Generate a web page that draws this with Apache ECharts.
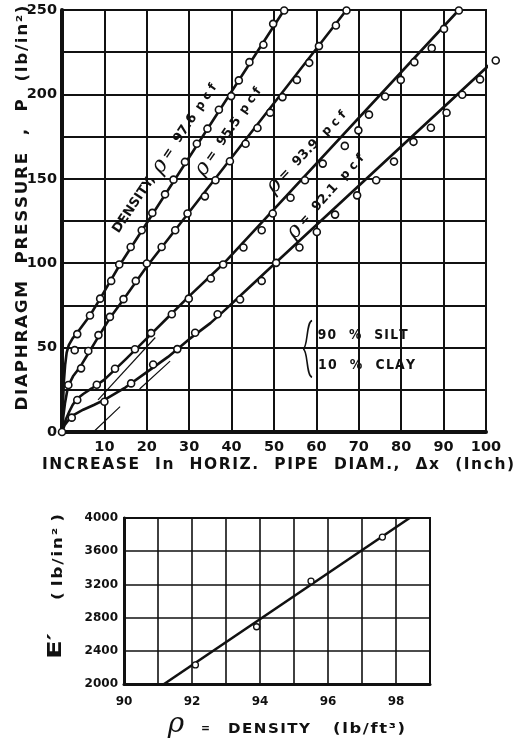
<!DOCTYPE html>
<html>
<head>
<meta charset="utf-8">
<script src="https://cdn.jsdelivr.net/npm/echarts@6/dist/echarts.min.js"></script>
<style>
  html, body { margin: 0; padding: 0; background: #fff; }
  #chart { width: 516px; height: 744px; }
</style>
</head>
<body>
<div id="chart"></div>
<script>
// Load tests on buried pipe: diaphragm pressure P vs. increase in horizontal
// pipe diameter Δx for four soil densities, and soil modulus E' vs. density.

// Measured points [Δx (inch), P (lb/in²)]
const obs976 = [[0, 0], [3.0, 48.5], [3.6, 58], [6.6, 69], [9, 79], [11.6, 89.5], [13.5, 99.2],
  [16.2, 109.6], [18.8, 119.5], [21.3, 129.8], [24.3, 140.8], [26.3, 149.5], [29, 160],
  [31.8, 170.8], [34.3, 179.7], [37, 190.9], [39.9, 199], [41.7, 208.3], [44.2, 219.1],
  [47.5, 229.4], [49.8, 241.8], [52.4, 249.7]];
const obs955 = [[1.5, 27.8], [4.5, 37.7], [6.2, 48], [8.6, 57.4], [11.3, 68.2], [14.5, 78.7],
  [17.4, 89.5], [20, 99.8], [23.5, 109.6], [26.7, 119.5], [29.6, 129.4], [33.7, 139.6],
  [36.2, 149.1], [39.6, 160.4], [43.3, 170.8], [46.1, 180.1], [49.1, 189.2], [52, 198.4],
  [55.4, 208.6], [58.3, 218.7], [60.6, 228.6], [64.6, 240.8], [67.1, 249.7]];
const obs939 = [[3.6, 19], [8.2, 28], [12.5, 37.5], [17.2, 49], [21, 58.6], [25.9, 69.8],
  [29.9, 79], [35.1, 90.9], [38, 99.2], [42.8, 109.3], [47.1, 119.5], [49.7, 129.4],
  [53.9, 138.8], [57.3, 149.1], [61.5, 159], [66.7, 169.5], [69.9, 178.7], [72.4, 188],
  [76.2, 198.8], [79.9, 208.6], [83.1, 219.1], [87.2, 227.4], [90.1, 238.8], [93.6, 249.7]];
const obs921 = [[2.3, 8.5], [10, 17.9], [16.3, 28.8], [21.5, 40], [27.2, 49.1], [31.4, 58.8],
  [36.7, 69.8], [42, 78.5], [47.1, 89.5], [50.5, 100.2], [56, 109.3], [60.1, 118.5],
  [64.4, 128.8], [69.6, 140.2], [74.1, 149.1], [78.3, 160.2], [82.9, 171.9], [87, 180.2],
  [90.7, 189.1], [94.4, 199.8], [98.6, 208.9], [102.3, 220.1]];

// Drawn curves through the measurements
const curve976 = [[0, 0], [0.2, 15], [0.45, 30], [0.75, 40], [1.1, 47], [1.6, 51.5],
  [2.5, 55.5], [3.5, 58.5], [6.6, 69], [9, 79], [13.5, 98.5], [52.4, 250]];
const curve955 = [[0, 0], [0.3, 9], [0.7, 17], [1.2, 24], [1.8, 29], [2.6, 33], [3.5, 36],
  [4.5, 39.5], [6.2, 46.5], [8.6, 56.5], [11.3, 67.5], [14.5, 78.5], [20, 98], [67.1, 250]];
const curve939 = [[0, 0], [0.5, 4.5], [1, 8], [1.7, 12], [2.5, 16], [3.5, 19.5], [5, 22.5],
  [7, 25.8], [10, 31], [15, 43], [20, 55.5], [25, 68], [30, 80.5], [38, 99.5], [93.6, 250]];
const curve921 = [[0, 0], [0.6, 4], [1.5, 7], [3, 10.5], [5, 13.2], [7.5, 16], [10, 19],
  [15, 26.5], [20, 35.5], [25, 44.5], [30, 55], [35, 64.5], [38.4, 72.2], [44, 85.3],
  [50.2, 99.8], [102.3, 221]];

// Straight-line extensions of the linear parts toward P = 0
const ext921 = [[7.4, 0], [13.7, 15], null, [18.3, 25.5], [25.5, 42]];
const ext939 = [[8.5, 19], [22, 56]];

const pressureTickLabels = [0, 50, 100, 150, 200, 250];
const dxTickLabels = [10, 20, 30, 40, 50, 60, 70, 80, 90, 100];

// Soil modulus E' (lb/in²) against density (lb/ft³)
const densities = [92.1, 93.9, 95.5, 97.6];
const ePrime = [2230, 2690, 3240, 3770];
const eFit = [[91.18, 2000], [98.4, 4000]];
const densityTickLabels = [90, 92, 94, 96, 98];

const INK = '#111';
const FONT = '"DejaVu Sans", "Liberation Sans", sans-serif';

const chart = echarts.init(document.getElementById('chart'), null, { renderer: 'canvas' });

function axisBase(extra) {
  return Object.assign({
    type: 'value',
    axisTick: { show: false },
    axisLine: { show: true, onZero: false, lineStyle: { color: INK, width: 4 } },
    splitLine: { show: true, lineStyle: { color: INK, width: 2 } }
  }, extra);
}

function curveSeries(data, width) {
  return {
    type: 'line', xAxisIndex: 0, yAxisIndex: 0, data: data,
    showSymbol: false, smooth: false, clip: false,
    lineStyle: { color: INK, width: width, join: 'round', cap: 'round' }, z: 3
  };
}

function pointSeries(data) {
  return {
    type: 'scatter', xAxisIndex: 0, yAxisIndex: 0, data: data, clip: false,
    symbol: 'circle', symbolSize: 7,
    itemStyle: { color: '#fff', borderColor: INK, borderWidth: 1.6, opacity: 1 }, z: 4
  };
}

const option = {
  animation: false,
  backgroundColor: '#fff',
  grid: [
    { left: 62, right: 30, top: 10, bottom: 312, show: true, borderColor: INK, borderWidth: 2 },
    { left: 124, right: 86, top: 518, bottom: 60, show: true, borderColor: INK, borderWidth: 2 }
  ],
  xAxis: [
    axisBase({
      gridIndex: 0, min: 0, max: 100, interval: 10,
      axisLabel: {
        color: INK, fontFamily: FONT, fontWeight: 'bold', fontSize: 14.5, margin: 8,
        formatter: v => dxTickLabels.indexOf(v) >= 0 ? String(v) : ''
      }
    }),
    axisBase({
      gridIndex: 1, min: 90, max: 99, interval: 1,
      axisLine: { show: true, onZero: false, lineStyle: { color: INK, width: 3 } },
      splitLine: { show: true, lineStyle: { color: INK, width: 1.6 } },
      axisLabel: {
        color: INK, fontFamily: FONT, fontWeight: 'bold', fontSize: 12, margin: 12,
        formatter: v => densityTickLabels.indexOf(v) >= 0 ? String(v) : ''
      }
    })
  ],
  yAxis: [
    axisBase({
      gridIndex: 0, min: 0, max: 250, interval: 25,
      axisLabel: {
        color: INK, fontFamily: FONT, fontWeight: 'bold', fontSize: 14.5, margin: 5,
        formatter: v => pressureTickLabels.indexOf(v) >= 0 ? String(v) : ''
      }
    }),
    axisBase({
      gridIndex: 1, min: 2000, max: 4000, interval: 400,
      axisLine: { show: true, onZero: false, lineStyle: { color: INK, width: 3 } },
      splitLine: { show: true, lineStyle: { color: INK, width: 1.6 } },
      axisLabel: {
        color: INK, fontFamily: FONT, fontWeight: 'bold', fontSize: 12, margin: 6,
        formatter: v => String(v)
      }
    })
  ],
  series: [
    curveSeries(curve976, 2.6),
    curveSeries(curve955, 2.6),
    curveSeries(curve939, 2.6),
    curveSeries(curve921, 2.6),
    {
      type: 'line', xAxisIndex: 0, yAxisIndex: 0, data: ext921, showSymbol: false,
      connectNulls: false, lineStyle: { color: INK, width: 1.2 }, z: 2
    },
    {
      type: 'line', xAxisIndex: 0, yAxisIndex: 0, data: ext939, showSymbol: false,
      lineStyle: { color: INK, width: 1.2 }, z: 2
    },
    pointSeries(obs976),
    pointSeries(obs955),
    pointSeries(obs939),
    pointSeries(obs921),
    {
      type: 'line', xAxisIndex: 1, yAxisIndex: 1, data: eFit, showSymbol: false,
      lineStyle: { color: INK, width: 2.6 }, z: 3
    },
    {
      type: 'scatter', xAxisIndex: 1, yAxisIndex: 1,
      data: densities.map((d, i) => [d, ePrime[i]]),
      symbol: 'circle', symbolSize: 6,
      itemStyle: { color: '#fff', borderColor: INK, borderWidth: 1.3, opacity: 1 }, z: 4
    }
  ]
};

chart.setOption(option);

// ---- text helpers -------------------------------------------------------
const measureCtx = document.createElement('canvas').getContext('2d');
function textWidth(text, font) {
  measureCtx.font = font;
  return measureCtx.measureText(text).width;
}
// open up the lettering slightly with hair spaces
function spaced(s, gap) {
  return s.split(' ').map(w => w.split('').join('\u200A')).join(gap || '   ');
}
// text stretched along its own baseline to occupy a given length
function fitted(text, font, x, y, length, angleDeg, align) {
  const sx = length / textWidth(text, font);
  return {
    type: 'text', x: x, y: y, rotation: (angleDeg || 0) * Math.PI / 180,
    scaleX: sx, scaleY: 1, z: 10,
    style: {
      text: text, font: font, fill: INK,
      align: align || 'center', textAlign: align || 'center',
      verticalAlign: 'middle', textVerticalAlign: 'middle'
    }
  };
}

// Annotations placed in data coordinates of the pressure chart
const px = (x, y) => chart.convertToPixel({ gridIndex: 0 }, [x, y]);
const deg = a => a * Math.PI / 180;

const richCurve = {
  t: { fontFamily: FONT, fontWeight: 'bold', fontSize: 13, fill: INK },
  r: { fontFamily: '"DejaVu Serif", serif', fontStyle: 'italic', fontSize: 22, fill: INK },
  s: { fontFamily: FONT, fontWeight: 'bold', fontSize: 12, fill: INK }
};

function curveLabel(text, x, y, angle) {
  const p = px(x, y);
  return {
    type: 'text', x: p[0], y: p[1], rotation: deg(angle), z: 10,
    style: {
      text: text, rich: richCurve, fill: INK,
      align: 'center', verticalAlign: 'middle', textAlign: 'center', textVerticalAlign: 'middle'
    }
  };
}

// Brace grouping the soil composition note
const bTop = px(57.8, 66), bBot = px(57.8, 32.5);
const bx = bTop[0], bt = bTop[1], bb = bBot[1], bm = (bt + bb) / 2;
const braceStyle = { stroke: INK, lineWidth: 1.6, fill: null };

const soil1 = px(60.3, 57);
const soil2 = px(60.4, 39.5);

chart.setOption({
  graphic: [
    curveLabel('{t|DENSITY,}  {r|ρ} {t|=  97.6}  {s|p c f}', 24.3, 162, 56),
    curveLabel('{r|ρ} {t|=  95.5}  {s|p c f}', 39.4, 178, 55),
    curveLabel('{r|ρ} {t|=  93.9}   {s|p c f}', 57.8, 166, 46),
    curveLabel('{r|ρ} {t|=  92.1}   {s|p c f}', 62.3, 139.6, 48),
    {
      type: 'bezierCurve', z: 10,
      shape: { x1: bx + 5, y1: bt, cpx1: bx - 1, cpy1: bt + 1, cpx2: bx + 1, cpy2: bm - 1, x2: bx - 4, y2: bm },
      style: braceStyle
    },
    {
      type: 'bezierCurve', z: 10,
      shape: { x1: bx - 4, y1: bm, cpx1: bx + 1, cpy1: bm + 1, cpx2: bx - 1, cpy2: bb - 1, x2: bx + 5, y2: bb },
      style: braceStyle
    },
    fitted(spaced('90 % SILT'), 'bold 14px ' + FONT, soil1[0], soil1[1], 90, 0, 'left'),
    fitted(spaced('10 % CLAY'), 'bold 14px ' + FONT, soil2[0], soil2[1], 97, 0, 'left'),

    // axis titles of the pressure chart
    fitted(spaced('DIAPHRAGM PRESSURE , P (lb/in²)'), 'bold 15px ' + FONT, 23, 208, 405, 90),
    fitted(spaced('INCREASE In HORIZ. PIPE DIAM., Δx (Inch)'), 'bold 16px ' + FONT, 278, 465, 472, 0),

    // axis titles of the modulus chart
    fitted(spaced('( lb/in² )', ' '), 'bold 14px ' + FONT, 58, 557, 86, 90),
    fitted('E′', 'bold 19px ' + FONT, 56, 646, 26, 90),
    {
      type: 'text', x: 176, y: 725, z: 10,
      style: {
        text: 'ρ', font: 'italic 28px "DejaVu Serif", serif', fill: INK,
        align: 'center', textAlign: 'center', verticalAlign: 'middle', textVerticalAlign: 'middle'
      }
    },
    fitted('=', 'bold 13px ' + FONT, 201, 729, 9, 0, 'left'),
    fitted(spaced('DENSITY'), 'bold 14px ' + FONT, 228, 729, 82, 0, 'left'),
    fitted(spaced('(lb/ft³)'), 'bold 14px ' + FONT, 333, 729, 72, 0, 'left')
  ]
});
</script>
</body>
</html>
